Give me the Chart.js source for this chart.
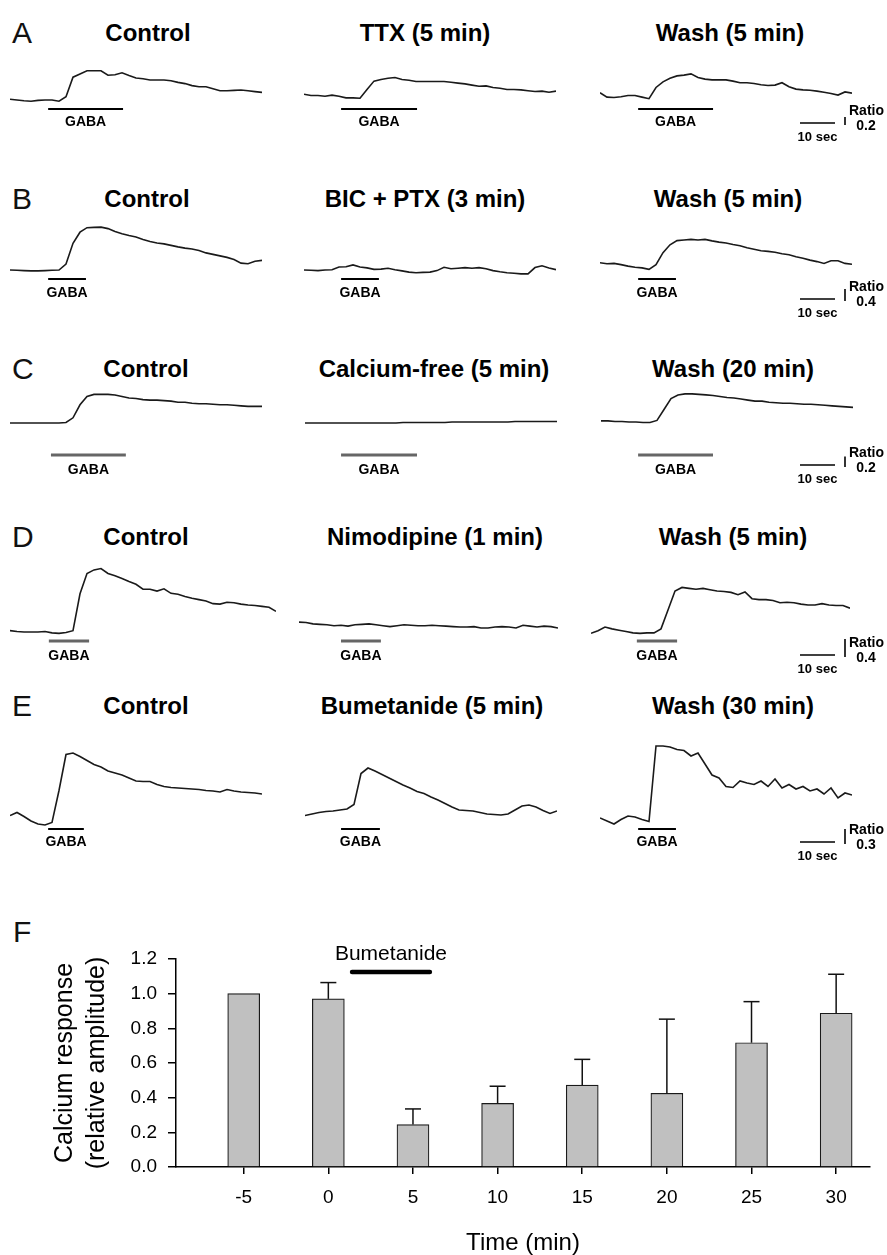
<!DOCTYPE html>
<html><head><meta charset="utf-8">
<script src="https://cdn.jsdelivr.net/npm/chart.js@4.4.1/dist/chart.umd.min.js"></script>
<style>
html,body{margin:0;padding:0;background:#fff;}
body{width:887px;height:1255px;position:relative;overflow:hidden;font-family:"Liberation Sans",Arial,Helvetica,sans-serif;}
canvas{position:absolute;}
.t{position:absolute;transform:translate(-50%,-50%);white-space:nowrap;font-weight:bold;font-size:24px;color:#000;line-height:1;}
.L{position:absolute;transform:translateY(-50%);font-size:30px;color:#111;line-height:1;}
</style></head><body>
<script>
// ---------- DATA ----------
// Fura-2 ratio traces (change in ratio from baseline), one sample every 2 s
const SAMPLE_SEC = 2;
const traceA_control = [0.02,0,-0.02,-0.03,-0.01,0,0,-0.03,0.08,0.57,0.65,0.73,0.73,0.73,0.62,0.63,0.68,0.61,0.55,0.53,0.5,0.5,0.5,0.48,0.44,0.41,0.36,0.33,0.33,0.28,0.23,0.23,0.24,0.25,0.23,0.21,0.19];
const traceA_ttx     = [0.06,0.03,0.03,0.01,0.04,0.01,-0.03,-0.03,-0.04,0.18,0.39,0.43,0.46,0.48,0.43,0.41,0.38,0.38,0.38,0.38,0.38,0.36,0.34,0.32,0.29,0.26,0.27,0.23,0.21,0.18,0.18,0.17,0.15,0.13,0.14,0.11,0.14];
const traceA_wash    = [0.1,-0.01,-0.02,0,0.03,0.03,-0.01,-0.05,0.23,0.37,0.46,0.52,0.54,0.57,0.48,0.44,0.42,0.42,0.42,0.39,0.35,0.35,0.33,0.3,0.28,0.29,0.35,0.25,0.19,0.17,0.16,0.14,0.11,0.08,0.04,0.12,0.09];
const traceB_control = [0.01,0,-0.01,-0.02,-0.02,-0.01,0,0.01,0.21,0.9,1.27,1.42,1.43,1.44,1.39,1.29,1.22,1.16,1.11,1.03,0.96,0.91,0.88,0.83,0.78,0.74,0.71,0.66,0.58,0.53,0.48,0.43,0.36,0.24,0.22,0.3,0.33];
const traceB_bicptx  = [0,-0.01,-0.02,0,0.01,0.1,0.11,0.17,0.1,0.07,0.02,0.03,0.06,0.01,-0.03,-0.07,-0.09,-0.08,-0.07,-0.02,0.09,0.04,0.06,0.08,0.06,0.08,0.04,-0.02,-0.06,-0.09,-0.11,-0.13,-0.13,0.08,0.14,0.07,0.01];
const traceB_wash    = [0.13,0.1,0.11,0.07,0.02,-0.02,-0.04,-0.09,0.07,0.47,0.73,0.87,0.89,0.91,0.89,0.91,0.86,0.82,0.79,0.74,0.7,0.63,0.58,0.53,0.51,0.48,0.43,0.4,0.33,0.28,0.22,0.17,0.11,0.2,0.2,0.11,0.08];
const traceC_control = [0,0,0,0,0,0,0,0,0.01,0.1,0.35,0.51,0.55,0.55,0.55,0.54,0.51,0.48,0.47,0.45,0.44,0.44,0.43,0.42,0.4,0.4,0.38,0.37,0.37,0.36,0.35,0.35,0.34,0.33,0.32,0.32,0.32];
const traceC_cafree  = [0,0,0,0,0,0,0,0,0,0,0,0,0,0,0.01,0.01,0.01,0.01,0.01,0.01,0.01,0.02,0.02,0.02,0.02,0.02,0.02,0.02,0.02,0.02,0.03,0.03,0.03,0.03,0.03,0.03,0.03];
const traceC_wash    = [0.04,0.04,0.03,0.03,0.02,0.02,0.01,0.01,0.05,0.26,0.47,0.54,0.56,0.56,0.55,0.54,0.53,0.51,0.49,0.48,0.46,0.44,0.42,0.42,0.4,0.39,0.38,0.38,0.37,0.36,0.36,0.35,0.34,0.33,0.32,0.31,0.3];
const traceD_control = [0.03,0.01,0,0,0,0.01,-0.02,-0.03,-0.01,0.03,0.85,1.3,1.38,1.41,1.3,1.25,1.19,1.12,1.06,0.95,0.95,0.91,0.96,0.86,0.84,0.79,0.75,0.72,0.69,0.63,0.62,0.66,0.65,0.62,0.6,0.59,0.57,0.55,0.46];
const traceD_nimo    = [0.22,0.21,0.18,0.17,0.16,0.14,0.15,0.13,0.16,0.17,0.18,0.16,0.14,0.12,0.14,0.16,0.15,0.14,0.14,0.15,0.14,0.13,0.12,0.11,0.11,0.12,0.09,0.09,0.11,0.12,0.11,0.09,0.15,0.13,0.11,0.13,0.12,0.09];
const traceD_wash    = [-0.03,0.03,0.11,0.07,0.04,0.01,-0.02,-0.03,-0.02,-0.02,0.07,0.49,0.91,0.99,0.97,0.95,0.97,0.94,0.91,0.9,0.88,0.83,0.89,0.74,0.72,0.72,0.7,0.65,0.66,0.65,0.62,0.6,0.6,0.63,0.6,0.59,0.59,0.53];
const traceE_control = [0.11,0.17,0.09,0,-0.06,-0.08,-0.03,0.61,1.33,1.36,1.29,1.21,1.13,1.08,1.0,0.96,0.92,0.86,0.8,0.79,0.79,0.73,0.69,0.67,0.66,0.65,0.64,0.63,0.61,0.6,0.58,0.63,0.6,0.58,0.57,0.56,0.54];
const traceE_bum     = [0.11,0.14,0.17,0.19,0.2,0.22,0.24,0.33,0.95,1.06,1.0,0.93,0.86,0.79,0.72,0.66,0.59,0.55,0.48,0.42,0.35,0.28,0.22,0.21,0.2,0.17,0.14,0.13,0.12,0.14,0.22,0.3,0.32,0.28,0.21,0.15,0.2];
const traceE_wash    = [0.06,0,-0.06,0.03,0.1,0.08,0.03,-0.01,1.5,1.5,1.48,1.43,1.41,1.3,1.36,1.14,0.92,0.86,0.69,0.67,0.8,0.76,0.73,0.8,0.69,0.84,0.66,0.73,0.64,0.69,0.6,0.64,0.54,0.66,0.46,0.56,0.52];

// GABA application windows (s from trace start)
const gabaA = [[10.9,32.3],[10.6,32.3],[10.9,32.3]];
const gabaB = [[10.9,21.7],[10.6,21.4],[10.9,21.7]];
const gabaC = [[11.7,33.1],[10.3,32.0],[10.6,32.0]];
const gabaD = [[11.1,22.6],[12.0,23.4],[13.1,24.6]];
const gabaE = [[10.9,21.1],[10.3,21.4],[10.9,21.7]];

// scale bars
const scaleBarSec = 10;
const scaleBarRatio = [0.2, 0.4, 0.2, 0.4, 0.3];

// Panel F
const timeMin = [-5, 0, 5, 10, 15, 20, 25, 30];
const responseMean = [1.00, 0.97, 0.245, 0.367, 0.473, 0.425, 0.717, 0.887];
const responseSEM  = [0, 0.094, 0.09, 0.099, 0.148, 0.428, 0.237, 0.225];
const xTickVals = [-5, 0, 5, 10, 15, 20, 25, 30];
const yTickVals = [0, 0.2, 0.4, 0.6, 0.8, 1.0, 1.2];
const bumetanidePeriod = [1.4, 6.0];

// ---------- LAYOUT / STYLE ----------
const FONT = '"Liberation Sans", Arial, Helvetica, sans-serif';
Chart.defaults.font.family = FONT;
const PX_PER_SEC = 3.5;

const rows = [
  {letter:'A', titleY:33, k:40, barY:109, textY:122, scaleY:123, barColor:'#000', barW:2,
   panels:[{title:'Control', cx:148, x0:10, base:100, data:traceA_control},
           {title:'TTX (5 min)', cx:425, x0:304, base:96.7, data:traceA_ttx},
           {title:'Wash (5 min)', cx:730, x0:600, base:96.7, data:traceA_wash}], gaba:gabaA},
  {letter:'B', titleY:199, k:30, barY:279, textY:293, scaleY:299, barColor:'#000', barW:2,
   panels:[{title:'Control', cx:147, x0:10, base:270.3, data:traceB_control},
           {title:'BIC + PTX (3 min)', cx:425, x0:304, base:270, data:traceB_bicptx},
           {title:'Wash (5 min)', cx:728, x0:600, base:266.7, data:traceB_wash}], gaba:gabaB},
  {letter:'C', titleY:369, k:52, barY:455, textY:470, scaleY:465, barColor:'#666', barW:3,
   panels:[{title:'Control', cx:146, x0:10, base:423, data:traceC_control},
           {title:'Calcium-free (5 min)', cx:434, x0:305, base:423, data:traceC_cafree},
           {title:'Wash (20 min)', cx:733, x0:601, base:423, data:traceC_wash}], gaba:gabaC},
  {letter:'D', titleY:537, k:45, barY:641, textY:656, scaleY:655, barColor:'#666', barW:3,
   panels:[{title:'Control', cx:146, x0:10, base:632, data:traceD_control},
           {title:'Nimodipine (1 min)', cx:435, x0:299, base:632, data:traceD_nimo},
           {title:'Wash (5 min)', cx:733, x0:591, base:632, data:traceD_wash}], gaba:gabaD},
  {letter:'E', titleY:706, k:50, barY:829, textY:842, scaleY:842, barColor:'#000', barW:2,
   panels:[{title:'Control', cx:146, x0:10, base:821, data:traceE_control},
           {title:'Bumetanide (5 min)', cx:432, x0:305, base:821, data:traceE_bum},
           {title:'Wash (30 min)', cx:733, x0:600, base:821, data:traceE_wash}], gaba:gabaE}
];

function addDiv(cls, text, x, y){
  const d=document.createElement('div'); d.className=cls; d.textContent=text;
  d.style.left=x+'px'; d.style.top=y+'px'; document.body.appendChild(d); return d;
}
function seg(ctx,x1,y1,x2,y2){ctx.beginPath();ctx.moveTo(x1,y1);ctx.lineTo(x2,y2);ctx.stroke();}

function makePanel(row, rowIdx, p, pIdx){
  const isLast = pIdx===2;
  const n = p.data.length;
  const plotW = (n-1)*SAMPLE_SEC*PX_PER_SEC;
  const left = p.x0 - 6;
  const right = isLast ? 887 : Math.round(p.x0 + plotW + 6);
  const top = Math.round(p.base - 84);
  const bottom = Math.round(Math.max(row.textY, isLast ? row.scaleY + 14 : 0) + 12);
  const cv=document.createElement('canvas');
  cv.width=right-left; cv.height=bottom-top;
  cv.style.left=left+'px'; cv.style.top=top+'px';
  cv.style.width=(right-left)+'px'; cv.style.height=(bottom-top)+'px';
  document.body.appendChild(cv);
  const chartTop = p.base - 80, chartBottom = p.base + 10;
  const gaba = row.gaba[pIdx];
  new Chart(cv, {
    type:'line',
    data:{datasets:[{data:p.data.map((v,i)=>({x:i*SAMPLE_SEC, y:v})),
      borderColor:'#1a1a1a', borderWidth:1.6, pointRadius:0, tension:0, fill:false}]},
    options:{responsive:false, animation:false, events:[], devicePixelRatio:1,
      layout:{padding:{left:p.x0-left, right:right-(p.x0+plotW), top:chartTop-top, bottom:bottom-chartBottom}},
      scales:{x:{type:'linear', display:false, min:0, max:(n-1)*SAMPLE_SEC},
              y:{type:'linear', display:false, min:-10/row.k, max:80/row.k}},
      plugins:{legend:{display:false}, tooltip:{enabled:false}}},
    plugins:[{id:'annot'+rowIdx+pIdx, afterDatasetsDraw(chart){
      const ctx=chart.ctx, xs=chart.scales.x, ys=chart.scales.y;
      const bx1=xs.getPixelForValue(gaba[0]), bx2=xs.getPixelForValue(gaba[1]);
      ctx.save();
      ctx.strokeStyle=row.barColor; ctx.lineWidth=row.barW; ctx.lineCap='butt';
      seg(ctx,bx1,row.barY-top,bx2,row.barY-top);
      ctx.fillStyle='#000'; ctx.font='bold 14px '+FONT; ctx.textAlign='center'; ctx.textBaseline='middle';
      ctx.fillText('GABA',(bx1+bx2)/2,row.textY-top);
      if(isLast){
        const H=row.scaleY-top;
        const hx1=800-left, hx2=hx1+(xs.getPixelForValue(scaleBarSec)-xs.getPixelForValue(0));
        ctx.strokeStyle='#000'; ctx.lineWidth=1.6;
        seg(ctx,hx1,H,hx2,H);
        const vx=hx2+10, r=scaleBarRatio[rowIdx];
        const vlen=ys.getPixelForValue(0)-ys.getPixelForValue(r);
        seg(ctx,vx,H+2-vlen,vx,H+2);
        ctx.font='bold 13px '+FONT;
        ctx.fillText(scaleBarSec+' sec',(hx1+hx2)/2,H+14);
        ctx.font='bold 14px '+FONT;
        ctx.fillText(r.toFixed(1),vx+21,H+3);
        ctx.textAlign='left';
        ctx.fillText('Ratio',vx+4,H-12);
      }
      ctx.restore();
    }}]
  });
}

rows.forEach((row,ri)=>{
  addDiv('L', row.letter, 12, row.titleY);
  row.panels.forEach((p,pi)=>{
    addDiv('t', p.title, p.cx, row.titleY);
    makePanel(row, ri, p, pi);
  });
});

// ---------- PANEL F ----------
addDiv('L','F',13,932);
const cvF=document.createElement('canvas');
cvF.width=887; cvF.height=355; cvF.style.left='0px'; cvF.style.top='900px';
cvF.style.width='887px'; cvF.style.height='355px';
document.body.appendChild(cvF);
new Chart(cvF,{
  type:'bar',
  data:{datasets:[{data:timeMin.map((t,i)=>({x:t,y:responseMean[i]})),
    backgroundColor:'#c0c0c0', borderColor:'#1a1a1a', borderWidth:1.2, barThickness:32}]},
  options:{responsive:false, animation:false, events:[], devicePixelRatio:1,
    layout:{padding:{left:0,right:17,top:59,bottom:0}},
    plugins:{legend:{display:false}, tooltip:{enabled:false}},
    scales:{
      x:{type:'linear', min:-9, max:32, offset:false,
        afterBuildTicks:ax=>{ax.ticks=xTickVals.map(v=>({value:v}));},
        afterFit:s=>{s.height=88;},
        grid:{display:true, drawOnChartArea:false, drawTicks:true, tickLength:7, color:'#000', lineWidth:1.5, offset:false},
        border:{display:true, color:'#000', width:1.5},
        ticks:{color:'#000', font:{size:19}, padding:12, autoSkip:false, maxRotation:0, callback:v=>String(v)},
        title:{display:true, text:'Time (min)', color:'#000', font:{size:24, lineHeight:1}, padding:{top:0,bottom:0}}},
      y:{type:'linear', min:0, max:1.2,
        afterBuildTicks:ax=>{ax.ticks=yTickVals.map(v=>({value:v}));},
        afterFit:s=>{s.width=176;},
        grid:{display:true, drawOnChartArea:false, drawTicks:true, tickLength:8, color:'#000', lineWidth:1.5},
        border:{display:true, color:'#000', width:1.5},
        ticks:{color:'#000', font:{size:19}, padding:11, callback:v=>Number(v).toFixed(1)},
        title:{display:true, text:['Calcium response','(relative amplitude)'], color:'#000', font:{size:25, lineHeight:1.28}, padding:{top:49,bottom:0}}}
    }},
  plugins:[{id:'errF', afterDatasetsDraw(chart){
    const ctx=chart.ctx, x=chart.scales.x, y=chart.scales.y;
    ctx.save(); ctx.strokeStyle='#111'; ctx.lineWidth=1.5;
    timeMin.forEach((t,i)=>{
      if(!responseSEM[i]) return;
      const px=x.getPixelForValue(t), y0=y.getPixelForValue(responseMean[i]), y1=y.getPixelForValue(responseMean[i]+responseSEM[i]);
      seg(ctx,px,y0,px,y1); seg(ctx,px-8,y1,px+8,y1);
    });
    const bx1=x.getPixelForValue(bumetanidePeriod[0]), bx2=x.getPixelForValue(bumetanidePeriod[1]);
    const by=chart.chartArea.top+13;
    ctx.strokeStyle='#000'; ctx.lineWidth=4.5; ctx.lineCap='round';
    seg(ctx,bx1,by,bx2,by);
    ctx.fillStyle='#000'; ctx.font='21px '+FONT; ctx.textAlign='center'; ctx.textBaseline='middle';
    ctx.fillText('Bumetanide',(bx1+bx2)/2,chart.chartArea.top-5);
    ctx.restore();
  }}]
});
</script>
</body></html>
